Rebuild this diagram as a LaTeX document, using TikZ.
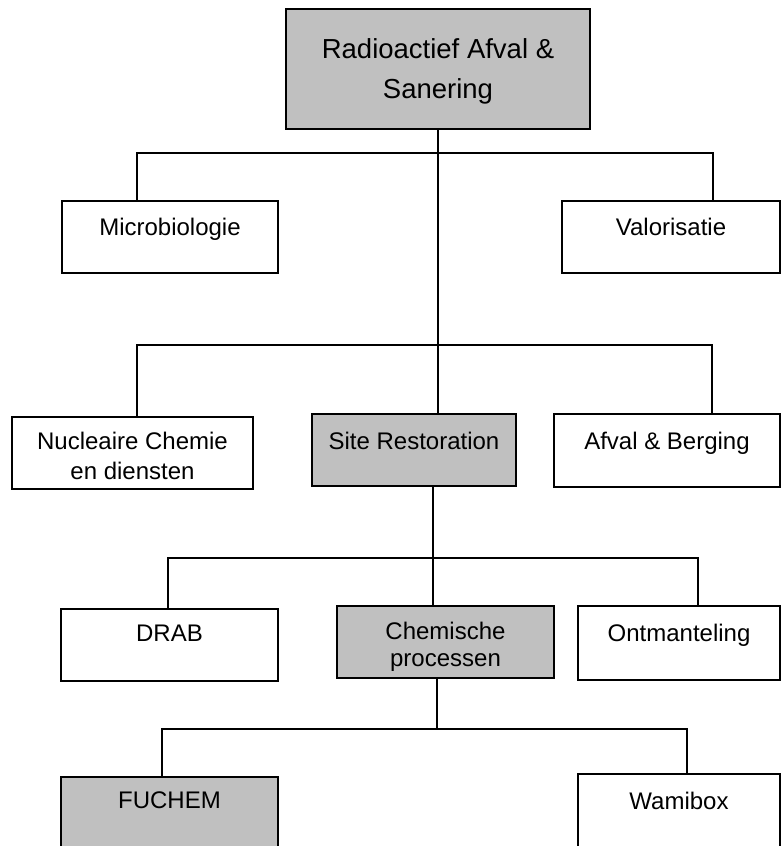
\documentclass[tikz,border=0pt]{standalone}
\usepackage{fontspec}
\setmainfont{Liberation Sans}
\usetikzlibrary{positioning}
\definecolor{boxgray}{RGB}{192,192,192}

\begin{document}
\begin{tikzpicture}[x=1pt, y=-1pt,
  every node/.style={font=\fontsize{24}{30}\selectfont},
  box/.style={draw, line width=1.5pt, anchor=north west, inner sep=0pt, outer sep=0pt},
  grey/.style={box, fill=boxgray},
  boxtext/.style={inner sep=0pt, align=center},
  link/.style={line width=1.5pt}]

  \useasboundingbox (0,0) rectangle (781,846);
  \clip (0,0) rectangle (781,846);

  %% Top level
  \node[grey, minimum width=304, minimum height=120] (rafs) at (286,9) {};
  \node[boxtext, below=29pt of rafs.north, font=\fontsize{27.5}{40}\selectfont] (rafstxt)
    {Radioactief Afval \&\\Sanering};

  %% Second row
  \node[box, minimum width=216, minimum height=72] (micro) at (62,201) {};
  \node[boxtext, below=16.5pt of micro.north] (microtxt) {Microbiologie};
  \node[box, minimum width=218, minimum height=72] (valo) at (562,201) {};
  \node[boxtext, below=16.5pt of valo.north] (valotxt) {Valorisatie};

  %% Third row
  \node[box, minimum width=241, minimum height=72] (nucl) at (12,417) {};
  \node[boxtext, below=14.5pt of nucl.north] (nucltxt) {Nucleaire Chemie\\en diensten};
  \node[grey, minimum width=204, minimum height=72] (site) at (312,414) {};
  \node[boxtext, below=17.5pt of site.north] (sitetxt) {Site Restoration};
  \node[box, minimum width=226, minimum height=73] (afval) at (554,414) {};
  \node[boxtext, below=17.5pt of afval.north] (afvaltxt) {Afval \& Berging};

  %% Fourth row
  \node[box, minimum width=217, minimum height=72] (drab) at (61,609) {};
  \node[boxtext, below=15.4pt of drab.north] (drabtxt) {DRAB};
  \node[grey, minimum width=217, minimum height=72] (chem) at (337,606) {};
  \node[boxtext, below=16pt of chem.north, font=\fontsize{24}{27}\selectfont] (chemtxt)
    {Chemische\\processen};
  \node[box, minimum width=202, minimum height=74] (ontm) at (578,606) {};
  \node[boxtext, below=18.4pt of ontm.north] (ontmtxt) {Ontmanteling};

  %% Fifth row (cut off at the bottom)
  \node[grey, minimum width=217, minimum height=100] (fuchem) at (61,777) {};
  \node[boxtext, below=14.4pt of fuchem.north] (fuchemtxt) {FUCHEM};
  \node[box, minimum width=202, minimum height=100] (wami) at (578,774) {};
  \node[boxtext, below=17.4pt of wami.north] (wamitxt) {Wamibox};

  %% Connectors
  \coordinate (b1l) at (137,153);
  \coordinate (b1r) at (713,153);
  \draw[link] (b1l |- micro.north) -- (b1l) -- (b1r) -- (b1r |- valo.north);
  \draw[link] (rafs.south) -- (rafs.south |- site.north);

  \coordinate (b2l) at (137,345);
  \coordinate (b2r) at (712,345);
  \draw[link] (b2l |- nucl.north) -- (b2l) -- (b2r) -- (b2r |- afval.north);

  \coordinate (b3l) at (168,558);
  \coordinate (b3m) at (433,558);
  \coordinate (b3r) at (698,558);
  \draw[link] (b3l |- drab.north) -- (b3l) -- (b3r) -- (b3r |- ontm.north);
  \draw[link] (b3m |- site.south) -- (b3m |- chem.north);

  \coordinate (b4l) at (162,729);
  \coordinate (b4m) at (437,729);
  \coordinate (b4r) at (687,729);
  \draw[link] (b4l |- fuchem.north) -- (b4l) -- (b4r) -- (b4r |- wami.north);
  \draw[link] (b4m |- chem.south) -- (b4m);

\end{tikzpicture}
\end{document}
